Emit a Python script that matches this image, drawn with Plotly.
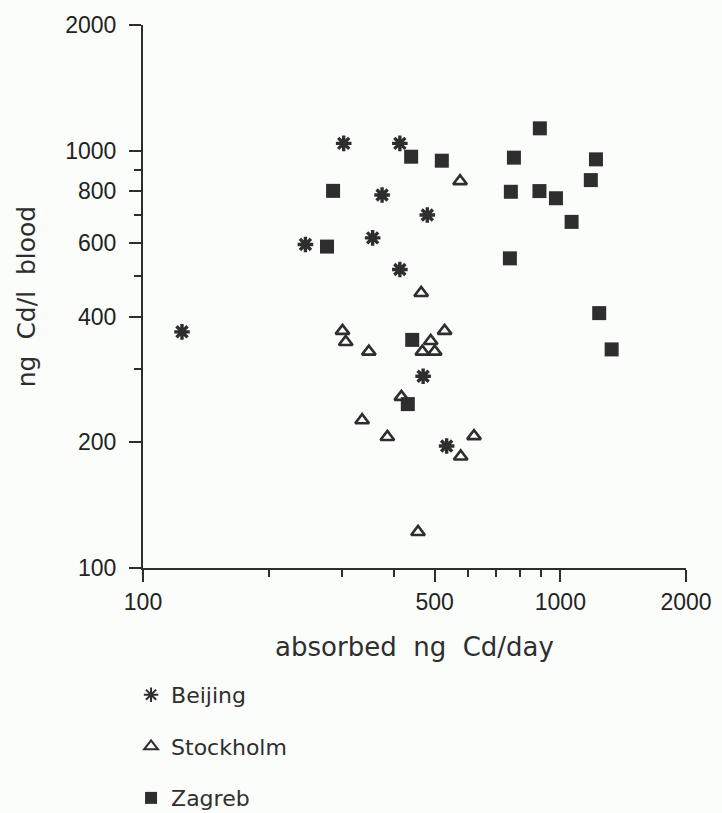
import numpy as np
import plotly.graph_objects as go

# Absorbed cadmium (ng Cd/day) vs blood cadmium (ng Cd/l) per subject
beijing_x = [302.6, 412.5, 374, 245, 355, 480, 412.5, 124, 469, 534]
beijing_y = [1041, 1041, 783, 596, 618, 701, 519, 368, 288, 196]

stockholm_x = [575, 464, 528, 489, 467, 500, 416, 385, 621, 577, 456, 300.6, 306, 347.6, 335]
stockholm_y = [845, 456, 370, 350, 330, 330, 257, 206, 207, 185, 122, 370, 348, 330, 226]

zagreb_x = [285.4, 276, 439, 520, 893, 774, 1217, 1183, 761, 891, 976, 1064, 757, 1239, 1327, 441.6, 431]
zagreb_y = [801, 589, 967, 946, 1131, 962, 953, 850, 797, 800, 769, 675, 552, 408, 334, 352, 247]

x_major = [100, 500, 1000, 2000]
x_minor = [200, 300, 400, 600, 700, 800, 900]
y_major = [100, 200, 400, 600, 800, 1000, 2000]
y_minor = [300, 500, 700, 900]

INK = "#2e2e2e"
BG = "#fbfdfb"

fig = go.Figure()
fig.add_trace(go.Scatter(
    x=beijing_x, y=beijing_y, mode="markers", name="Beijing", legendgroup="b",
    marker=dict(symbol="asterisk-open", size=13, line=dict(color=INK, width=3.4), color=INK),
))
fig.add_trace(go.Scatter(
    x=stockholm_x, y=stockholm_y, mode="markers", name="Stockholm", legendgroup="s",
    marker=dict(symbol="triangle-up-open", size=12, line=dict(color=INK, width=2.6), color=INK),
))
fig.add_trace(go.Scatter(
    x=zagreb_x, y=zagreb_y, mode="markers", name="Zagreb", legendgroup="z",
    marker=dict(symbol="square", size=14, color=INK, line=dict(width=0)),
))

tick_font = dict(family="Liberation Sans", size=23, color="#222222")

fig.update_xaxes(
    type="log", range=[2, np.log10(2000)],
    tickmode="array", tickvals=x_major, ticktext=[str(v) for v in x_major],
    ticks="outside", ticklen=12, tickwidth=2, tickcolor=INK,
    minor=dict(tickmode="array", tickvals=x_minor, ticks="outside", ticklen=7,
               tickwidth=2, tickcolor=INK, showgrid=False),
    showline=True, linecolor=INK, linewidth=2, showgrid=False, zeroline=False,
    tickfont=tick_font,
    title=dict(text="absorbed  ng  Cd/day",
               font=dict(family="DejaVu Sans", size=26, color=INK), standoff=24),
)
fig.update_yaxes(
    type="log", range=[2, np.log10(2000)],
    tickmode="array", tickvals=y_major, ticktext=[str(v) for v in y_major],
    ticks="outside", ticklen=12, tickwidth=2, tickcolor=INK,
    minor=dict(tickmode="array", tickvals=y_minor, ticks="outside", ticklen=7,
               tickwidth=2, tickcolor=INK, showgrid=False),
    showline=True, linecolor=INK, linewidth=2, showgrid=False, zeroline=False,
    tickfont=tick_font, ticklabelstandoff=8,
    title=dict(text="ng  Cd/l  blood",
               font=dict(family="DejaVu Sans", size=25, color=INK), standoff=22),
)

fig.update_layout(
    width=722, height=813,
    margin=dict(l=143, r=36, t=25, b=245, autoexpand=False),
    paper_bgcolor=BG, plot_bgcolor=BG,
    showlegend=True,
    legend=dict(
        x=-0.022, y=-0.195, xanchor="left", yanchor="top",
        font=dict(family="DejaVu Sans", size=22, color=INK),
        bgcolor="rgba(0,0,0,0)", tracegroupgap=20,
        itemsizing="constant",
    ),
)

fig.write_html("out.html")
